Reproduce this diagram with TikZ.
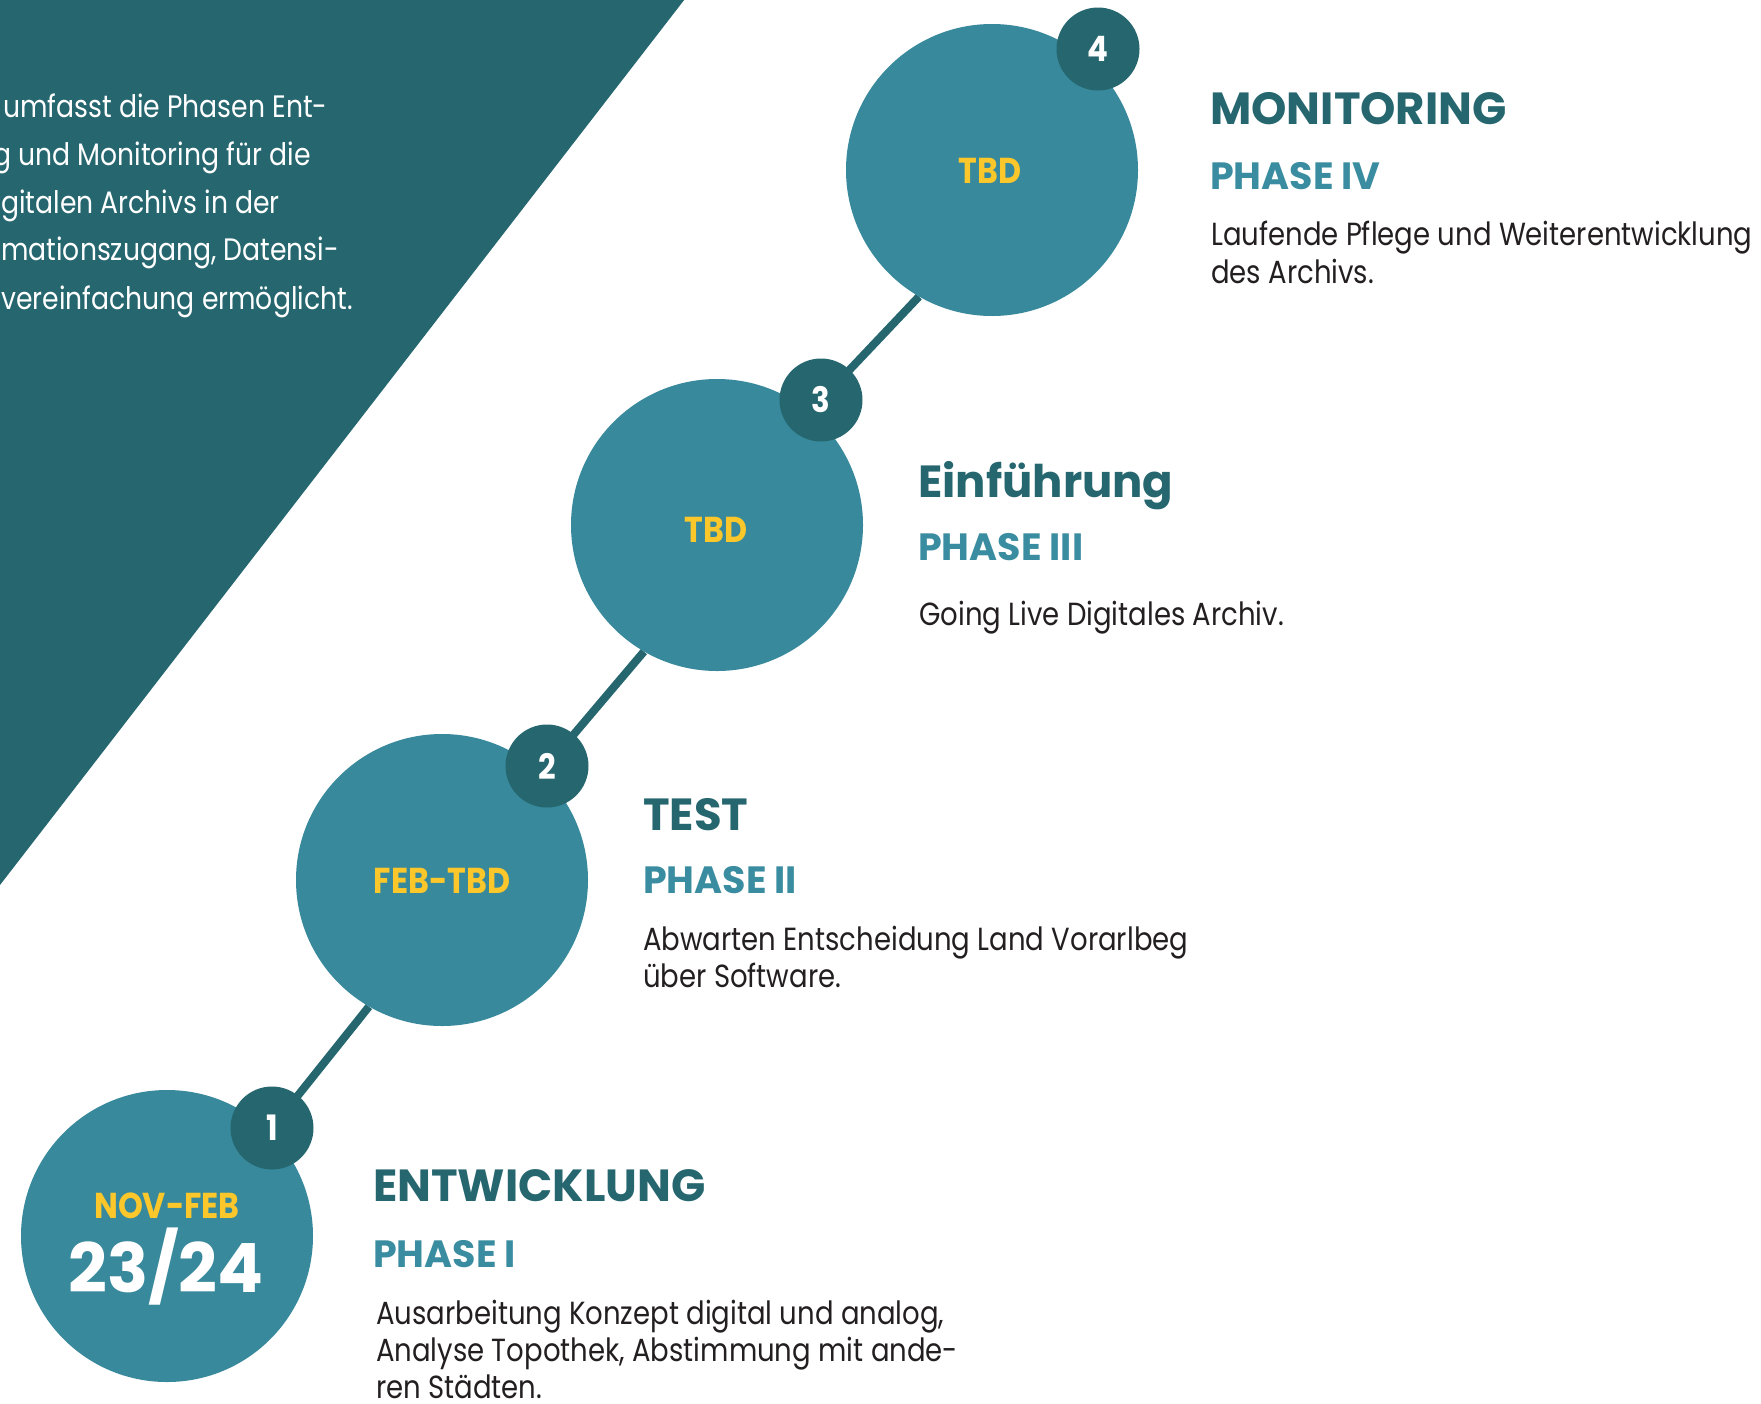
\documentclass[tikz,border=0pt]{standalone}
\usepackage{fontspec}
\setmainfont{Poppins}
\newfontfamily\bodyfont[FakeStretch=0.86]{Poppins}
\newfontfamily\introfont[FakeStretch=0.86]{Poppins}
\newfontfamily\datefont[FakeStretch=0.88]{Poppins}
\usetikzlibrary{positioning, backgrounds}

\definecolor{darkteal}{HTML}{25666F}
\definecolor{midteal}{HTML}{38899C}
\definecolor{phaseteal}{HTML}{3A8DA0}
\definecolor{dateyellow}{HTML}{FCC72A}
\definecolor{textgray}{HTML}{231F20}

\tikzset{
  phasecircle/.style={circle, fill=midteal, minimum size=292pt, inner sep=0pt},
  numbadge/.style={circle, fill=darkteal, minimum size=83pt, inner sep=0pt,
    text=white, font=\datefont\bfseries\fontsize{35}{35}\selectfont},
  datelabel/.style={anchor=base, inner sep=0pt, text=dateyellow,
    font=\datefont\bfseries\fontsize{36}{36}\selectfont},
  yearlabel/.style={anchor=base, inner sep=0pt, text=white,
    font=\bfseries\fontsize{68}{68}\selectfont},
  headline/.style={anchor=base west, inner sep=0pt, text=darkteal,
    font=\bfseries\fontsize{45}{45}\selectfont},
  phaselabel/.style={anchor=base west, inner sep=0pt, text=phaseteal,
    font=\bfseries\fontsize{38}{38}\selectfont},
  bodytext/.style={anchor=base west, inner sep=0pt, text=textgray,
    font=\bodyfont\fontsize{32}{37}\selectfont},
  introtext/.style={anchor=base west, inner sep=0pt, text=white,
    font=\introfont\fontsize{31}{48}\selectfont},
  connector/.style={draw=darkteal, line width=8pt},
}

\begin{document}
\begin{tikzpicture}[x=1pt, y=-1pt]
  \useasboundingbox (0,0) rectangle (1761,1403);

  % intro text on the dark panel
  \node[introtext] (introa) at (3,117) {umfasst die Phasen Ent-};
  \node[introtext] (introb) at (-7,165) {g und Monitoring für die};
  \node[introtext] (introc) at (1,213) {gitalen Archivs in der};
  \node[introtext] (introd) at (1,260) {mationszugang, Datensi-};
  \node[introtext] (introe) at (1,309) {vereinfachung ermöglicht.};

  % phase circles
  \node[phasecircle] (c1) at (167,1236) {};
  \node[phasecircle] (c2) at (442,880) {};
  \node[phasecircle] (c3) at (717,525) {};
  \node[phasecircle] (c4) at (992,170) {};

  \node[numbadge] (b1) at (272,1128) {1};
  \node[numbadge] (b2) at (547,766) {2};
  \node[numbadge] (b3) at (821,400) {3};
  \node[numbadge] (b4) at (1098,49) {4};

  % panel and connectors behind everything
  \begin{scope}[on background layer]
    \fill[white] (0,0) rectangle (1761,1403);
    \fill[darkteal] (0,-5) -- (688,-5) -- (0,885) -- cycle;
    \draw[connector] (b1.center) -- (c2.240);
    \draw[connector] (b2.center) -- (c3.240);
    \draw[connector] (b3.center) -- (c4.240);
  \end{scope}

  % dates
  \node[datelabel] (d1) at (167,1218) {NOV-FEB};
  \node[yearlabel] (y1) at (166,1292) {23/24};
  \node[datelabel] (d2) at (442,893) {FEB-TBD};
  \node[datelabel] (d3) at (716,542) {TBD};
  \node[datelabel] (d4) at (990,183) {TBD};

  % phase I
  \node[headline] (h1) at (373,1201) {ENTWICKLUNG};
  \node[phaselabel] (p1) at (373,1267) {PHASE I};
  \node[bodytext] (t1a) at (376,1324) {Ausarbeitung Konzept digital und analog,};
  \node[bodytext] (t1b) at (376,1361) {Analyse Topothek, Abstimmung mit ande-};
  \node[bodytext] (t1c) at (376,1398) {ren Städten.};

  % phase II
  \node[headline] (h2) at (643,830) {TEST};
  \node[phaselabel] (p2) at (643,893) {PHASE II};
  \node[bodytext] (t2a) at (643,950) {Abwarten Entscheidung Land Vorarlbeg};
  \node[bodytext] (t2b) at (643,987) {über Software.};

  % phase III
  \node[headline] (h3) at (918,497) {Einführung};
  \node[phaselabel] (p3) at (918,560) {PHASE III};
  \node[bodytext] (t3a) at (919,625) {Going Live Digitales Archiv.};

  % phase IV
  \node[headline] (h4) at (1210,124) {MONITORING};
  \node[phaselabel] (p4) at (1210,189) {PHASE IV};
  \node[bodytext] (t4a) at (1211,245) {Laufende Pflege und Weiterentwicklung};
  \node[bodytext] (t4b) at (1211,283) {des Archivs.};
\end{tikzpicture}
\end{document}
